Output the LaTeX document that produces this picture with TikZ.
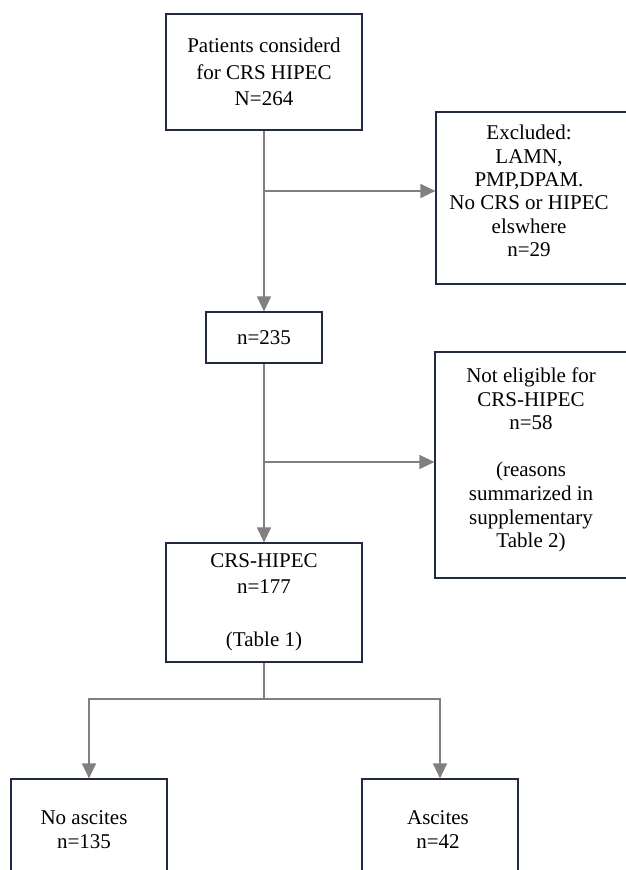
\documentclass[tikz,border=0pt]{standalone}
\usepackage{fontspec}
\setmainfont{Liberation Serif}
\usetikzlibrary{arrows.meta}
\definecolor{boxline}{RGB}{32,42,66}
\definecolor{arrgray}{RGB}{128,128,128}
\tikzset{
  boxnode/.style={draw=boxline, line width=1.2pt, fill=white, align=center, inner sep=0pt,
    font=\fontsize{21}{24}\selectfont},
  wide/.style={font=\fontsize{21}{26.5}\selectfont},
  txtnode/.style={align=center, inner sep=0pt, font=\fontsize{21}{23.3}\selectfont},
  conn/.style={draw=arrgray, line width=1.3pt},
  arr/.style={conn, -{Triangle[length=15pt,width=14pt]}}
}
\begin{document}
\begin{tikzpicture}[x=1pt,y=-1pt]
\useasboundingbox (0,0) rectangle (626,870);
% boxes
\node[boxnode, wide, minimum width=196pt, minimum height=116pt] (top) at (264,72)
  {Patients considerd\\for CRS HIPEC\\N=264};
\node[boxnode, minimum width=194pt, minimum height=172pt] (excl) at (533,198) {};
\node[txtnode] (exclT) at (529,191)
  {Excluded:\\LAMN,\\PMP,DPAM.\\No CRS or HIPEC\\elswhere\\n=29};
\node[boxnode, minimum width=116pt, minimum height=51pt] (n235) at (264,337.5) {n=235};
\node[boxnode, minimum width=195pt, minimum height=226pt] (notel) at (532.5,465) {};
\node[txtnode, font=\fontsize{21}{23.6}\selectfont] (notelT) at (531,460)
  {Not eligible for\\CRS-HIPEC\\n=58\\[23.6pt](reasons\\summarized in\\supplementary\\Table 2)};
\node[boxnode, wide, minimum width=196pt, minimum height=119pt] (crs) at (264,602.5)
  {CRS-HIPEC\\n=177\\[26.5pt](Table 1)};
\node[boxnode, minimum width=156pt, minimum height=102pt] (noasc) at (89,830) {};
\node[txtnode, font=\fontsize{21}{24}\selectfont] (noascT) at (84,830) {No ascites\\n=135};
\node[boxnode, minimum width=156pt, minimum height=102pt] (asc) at (440,830) {};
\node[txtnode, font=\fontsize{21}{24}\selectfont] (ascT) at (438,830) {Ascites\\n=42};
% junctions
\coordinate (j1) at (264,191);
\coordinate (j2) at (264,462);
\coordinate (j3) at (264,699);
% connectors
\draw[arr] (top.south) -- (n235.north);
\draw[arr] (j1) -- (j1 -| excl.west);
\draw[arr] (n235.south) -- (crs.north);
\draw[arr] (j2) -- (j2 -| notel.west);
\draw[conn] (crs.south) -- (j3);
\draw[arr] (j3) -| (noasc.north);
\draw[arr] (j3) -| (asc.north);
\end{tikzpicture}
\end{document}
